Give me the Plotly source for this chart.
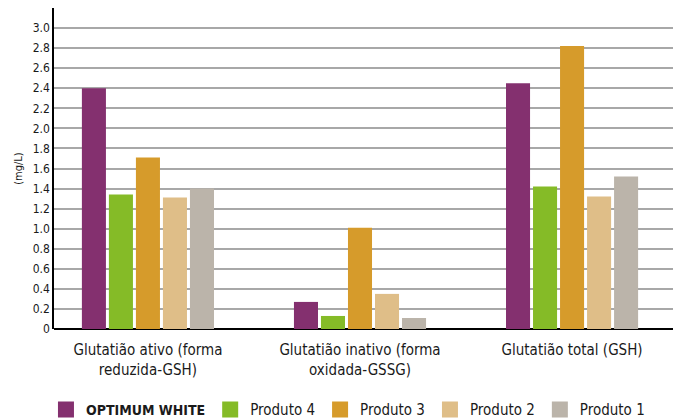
import plotly.graph_objects as go

categories = ["Glutatião ativo (forma<br>reduzida-GSH)",
              "Glutatião inativo (forma<br>oxidada-GSSG)",
              "Glutatião total (GSH)"]
series_names = ["OPTIMUM WHITE", "Produto 4", "Produto 3", "Produto 2", "Produto 1"]
optimum_white = [2.40, 0.27, 2.45]
produto_4 = [1.34, 0.13, 1.42]
produto_3 = [1.71, 1.01, 2.82]
produto_2 = [1.31, 0.35, 1.32]
produto_1 = [1.40, 0.11, 1.52]
series_values = [optimum_white, produto_4, produto_3, produto_2, produto_1]
colors = ["#84306f", "#85bb27", "#d69b2b", "#dfbe88", "#bbb4aa"]
tick_vals = [0, 0.2, 0.4, 0.6, 0.8, 1.0, 1.2, 1.4, 1.6, 1.8, 2.0, 2.2, 2.4, 2.6, 2.8, 3.0]
tick_text = ["0", "0.2", "0.4", "0.6", "0.8", "1.0", "1.2", "1.4", "1.6", "1.8",
             "2.0", "2.2", "2.4", "2.6", "2.8", "3.0"]

FONT = "DejaVu Sans Condensed, Liberation Sans Narrow, sans-serif"

fig = go.Figure()
for name, vals, col in zip(series_names, series_values, colors):
    fig.add_trace(go.Bar(x=categories, y=vals, name=name, marker_color=col,
                         marker_line_width=0, showlegend=False))
for name, col in zip(series_names, colors):
    if name == "OPTIMUM WHITE":
        label = "<b><span style='font-size:14px'>" + name + "</span></b>"
    else:
        label = name
    fig.add_trace(go.Scatter(x=[None], y=[None], mode="markers", name=label,
                             marker=dict(symbol="square", size=16, color=col)))

fig.update_layout(
    width=680, height=419,
    margin=dict(l=54, r=7, t=8, b=90),
    paper_bgcolor="white", plot_bgcolor="white",
    barmode="group", bargap=0.363, bargroupgap=0.11,
    font=dict(family=FONT, color="#1a1a1a"),
    showlegend=True,
    legend=dict(orientation="h", xref="container", yref="container",
                x=0.0676, xanchor="left", y=0.022, yanchor="middle",
                font=dict(size=15, family=FONT), itemsizing="trace",
                traceorder="normal", tracegroupgap=0),
)
fig.update_xaxes(type="category", range=[-0.443, 2.476], showgrid=False,
                 showline=False, ticks="", automargin=False, ticklabelstandoff=10,
                 tickfont=dict(size=15, family=FONT))
fig.update_yaxes(range=[0, 3.2], tickvals=tick_vals, ticktext=tick_text,
                 showgrid=True, gridcolor="#a8a8a8", gridwidth=1.5,
                 showline=True, linecolor="black", linewidth=1.5,
                 zeroline=True, zerolinecolor="black", zerolinewidth=2,
                 ticks="", automargin=False, tickfont=dict(size=12, family=FONT),
                 title=dict(text="(mg/L)", font=dict(size=11, family=FONT), standoff=8))
fig.write_html("out.html", config={"displayModeBar": False},
               post_script="document.body.style.margin='0';")
